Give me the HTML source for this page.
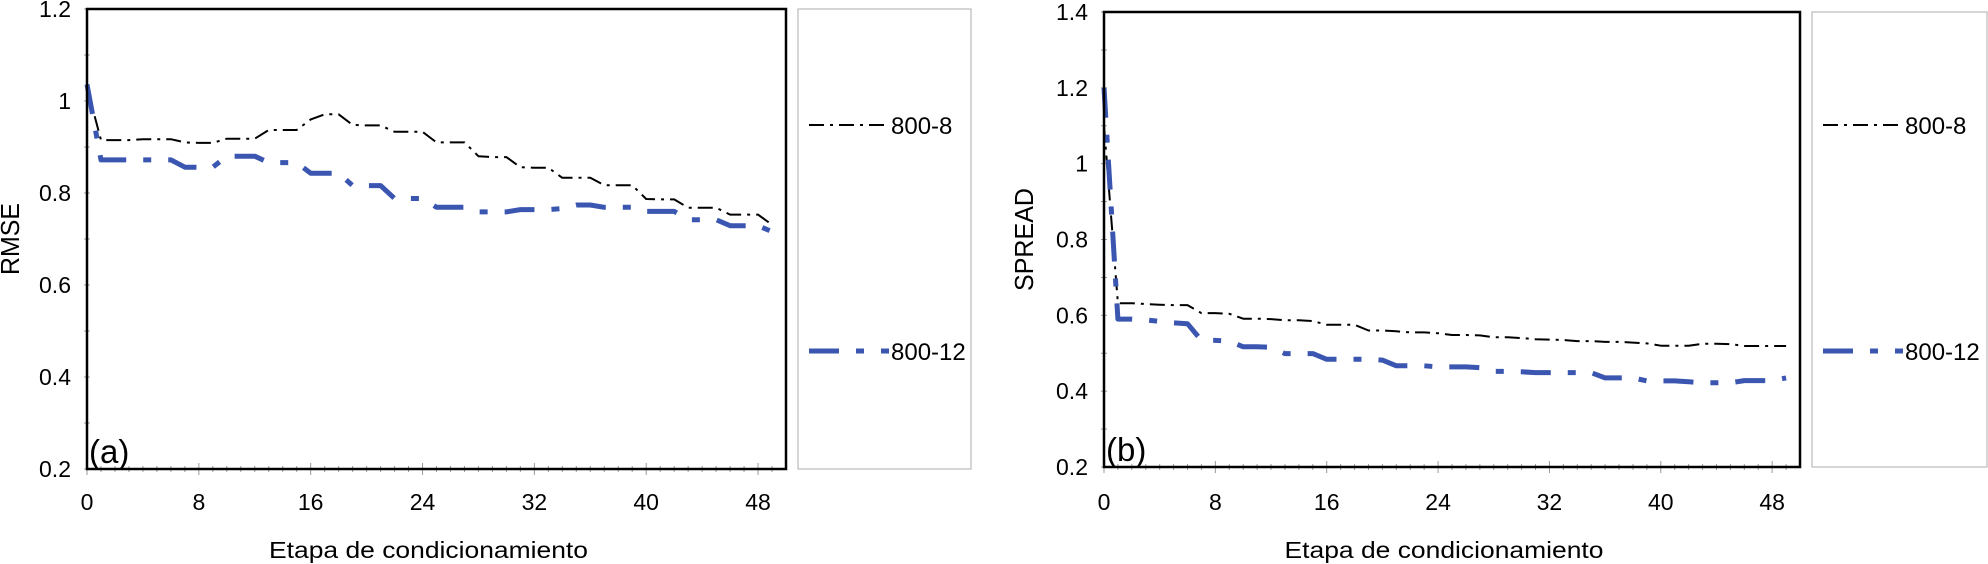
<!DOCTYPE html>
<html><head><meta charset="utf-8"><style>
html,body{margin:0;padding:0;background:#fff;}
svg{display:block;font-family:"Liberation Sans",Arial,sans-serif;}
</style></head><body>
<svg id="fig" width="1988" height="564" viewBox="0 0 1988 564" xmlns="http://www.w3.org/2000/svg"></svg>
<script>
const xs = [0,1,2,3,4,5,6,7,8,9,10,11,12,13,14,15,16,17,18,19,20,21,22,23,24,25,26,27,28,29,30,31,32,33,34,35,36,37,38,39,40,41,42,43,44,45,46,47,48,49];
const rmse8 = [1.03,0.915,0.915,0.915,0.917,0.917,0.917,0.91,0.909,0.909,0.918,0.918,0.918,0.937,0.937,0.937,0.96,0.971,0.971,0.948,0.947,0.947,0.933,0.933,0.933,0.91,0.91,0.91,0.88,0.878,0.878,0.856,0.855,0.855,0.833,0.833,0.833,0.817,0.817,0.817,0.787,0.786,0.786,0.768,0.768,0.768,0.753,0.753,0.753,0.731];
const rmse12 = [1.036,0.872,0.872,0.872,0.872,0.872,0.872,0.856,0.856,0.856,0.88,0.88,0.88,0.866,0.866,0.866,0.843,0.843,0.843,0.816,0.816,0.816,0.788,0.788,0.788,0.769,0.769,0.769,0.759,0.759,0.759,0.764,0.764,0.764,0.766,0.774,0.774,0.769,0.769,0.769,0.76,0.76,0.76,0.742,0.742,0.742,0.729,0.729,0.729,0.716];
const spread8 = [1.1,0.632,0.632,0.63,0.628,0.627,0.627,0.606,0.606,0.604,0.591,0.591,0.59,0.587,0.587,0.585,0.575,0.575,0.575,0.56,0.56,0.558,0.555,0.555,0.553,0.548,0.548,0.547,0.542,0.542,0.54,0.537,0.536,0.535,0.532,0.532,0.53,0.53,0.528,0.526,0.52,0.52,0.52,0.525,0.525,0.524,0.519,0.519,0.519,0.519];
const spread12 = [1.2,0.59,0.59,0.588,0.584,0.58,0.578,0.534,0.534,0.532,0.517,0.517,0.516,0.499,0.499,0.499,0.484,0.484,0.484,0.484,0.482,0.467,0.467,0.467,0.464,0.464,0.464,0.462,0.452,0.452,0.451,0.449,0.449,0.449,0.449,0.449,0.435,0.435,0.435,0.427,0.427,0.427,0.425,0.422,0.422,0.422,0.428,0.428,0.428,0.435];
const xTicks = [0,8,16,24,32,40,48];
const yTicksA = [0.2,0.4,0.6,0.8,1,1.2];
const yTicksB = [0.2,0.4,0.6,0.8,1,1.2,1.4];
const legendNames = ["800-8","800-12"];

const NS="http://www.w3.org/2000/svg";
const svg=document.getElementById('fig');
function mk(tag,attrs,parent){const e=document.createElementNS(NS,tag);for(const k in attrs)e.setAttribute(k,attrs[k]);(parent||svg).appendChild(e);return e;}

function panel(cfg){
  const g=mk('g',{});
  
  
  const X=v=>cfg.x0+(v-0)/50*(cfg.x1-cfg.x0);
  const Y=v=>cfg.y1-(v-cfg.ymin)/(cfg.ymax-cfg.ymin)*(cfg.y1-cfg.y0);
  for(let i=0;i<=49;i++){
    const t=mk('line',{x1:X(i),x2:X(i),y1:cfg.y1-(i%8===0?6:3),y2:cfg.y1+(i%8===0?6:3),stroke:'#999','stroke-width':1},g);
    
    
  }
  for(let v=cfg.ymin;v<=cfg.ymax+1e-9;v+=0.1){
    const t=mk('line',{x1:cfg.x0-3,x2:cfg.x0+3,y1:Y(v),y2:Y(v),stroke:'#999','stroke-width':1},g);
    
    
  }
  xTicks.forEach(v=>{
    const t=mk('text',{x:X(v),y:510,'font-size':23,'text-anchor':'middle',fill:'#000'},g);
    t.textContent=String(v);
    
    
  });
  cfg.yTicks.forEach(v=>{
    const t=mk('text',{x:cfg.x0-16,y:Y(v)+8,'font-size':23,'text-anchor':'end',fill:'#000'},g);
    t.textContent=String(v);
    
    
  });
  const xt=mk('text',{x:(cfg.x0+cfg.x1)/2-8,y:558,'font-size':23,'text-anchor':'middle',textLength:319,lengthAdjust:'spacingAndGlyphs'},g);
  xt.textContent='Etapa de condicionamiento';
  
  
  const yt=mk('text',{x:0,y:0,'font-size':26,'text-anchor':'middle',textLength:cfg.ytl,lengthAdjust:'spacingAndGlyphs',transform:`translate(${cfg.ytx},${(cfg.y0+cfg.y1)/2}) rotate(-90)`},g);
  yt.textContent=cfg.ytitle;
  
  
  const styles=[{c:'#000',w:2,d:'15 6 3 6'},{c:'#3a56b0',w:5,d:'30 17 8 17'}];
  cfg.series.forEach((s,si)=>{
    const pts=xs.map((x,i)=>X(x).toFixed(1)+','+Y(s[i]).toFixed(1)).join(' ');
    const p=mk('polyline',{points:pts,fill:'none',stroke:styles[si].c,'stroke-width':styles[si].w,'stroke-dasharray':styles[si].d,'stroke-linejoin':'round'},g);
    
    
  });
  const fr=mk('rect',{x:cfg.x0,y:cfg.y0,width:cfg.x1-cfg.x0,height:cfg.y1-cfg.y0,fill:'none',stroke:'#000','stroke-width':2.5},g);
  
  
  const lab=mk('text',{x:cfg.x0+2,y:cfg.y1-6,'font-size':33},g);
  lab.textContent=cfg.label;
  
  
  const lg=mk('g',{},g);
  
  
  mk('rect',{x:cfg.lx0,y:cfg.y0,width:cfg.lx1-cfg.lx0,height:cfg.y1-cfg.y0,fill:'#fff',stroke:'#bbb','stroke-width':1.2},lg);
  [125,351].forEach((ly,si)=>{
    const e=mk('g',{},lg);
    
    
    mk('line',{x1:cfg.lx0+11,x2:cfg.lx0+91,y1:ly,y2:ly,stroke:styles[si].c,'stroke-width':styles[si].w,'stroke-dasharray':styles[si].d},e);
    const t=mk('text',{x:cfg.lx0+93,y:ly+9,'font-size':24},e);
    t.textContent=legendNames[si];
  });
}
panel({name:'rmse-chart',x0:87,x1:786,y0:9,y1:469,ymin:0.2,ymax:1.2,yTicks:yTicksA,ytitle:'RMSE',ytx:19,ytl:72,label:'(a)',lx0:798,lx1:971,series:[rmse8,rmse12]});
panel({name:'spread-chart',x0:1104,x1:1800,y0:12,y1:467,ymin:0.2,ymax:1.4,yTicks:yTicksB,ytitle:'SPREAD',ytx:1033,ytl:103,label:'(b)',lx0:1812,lx1:1987,series:[spread8,spread12]});
</script>
</body></html>
